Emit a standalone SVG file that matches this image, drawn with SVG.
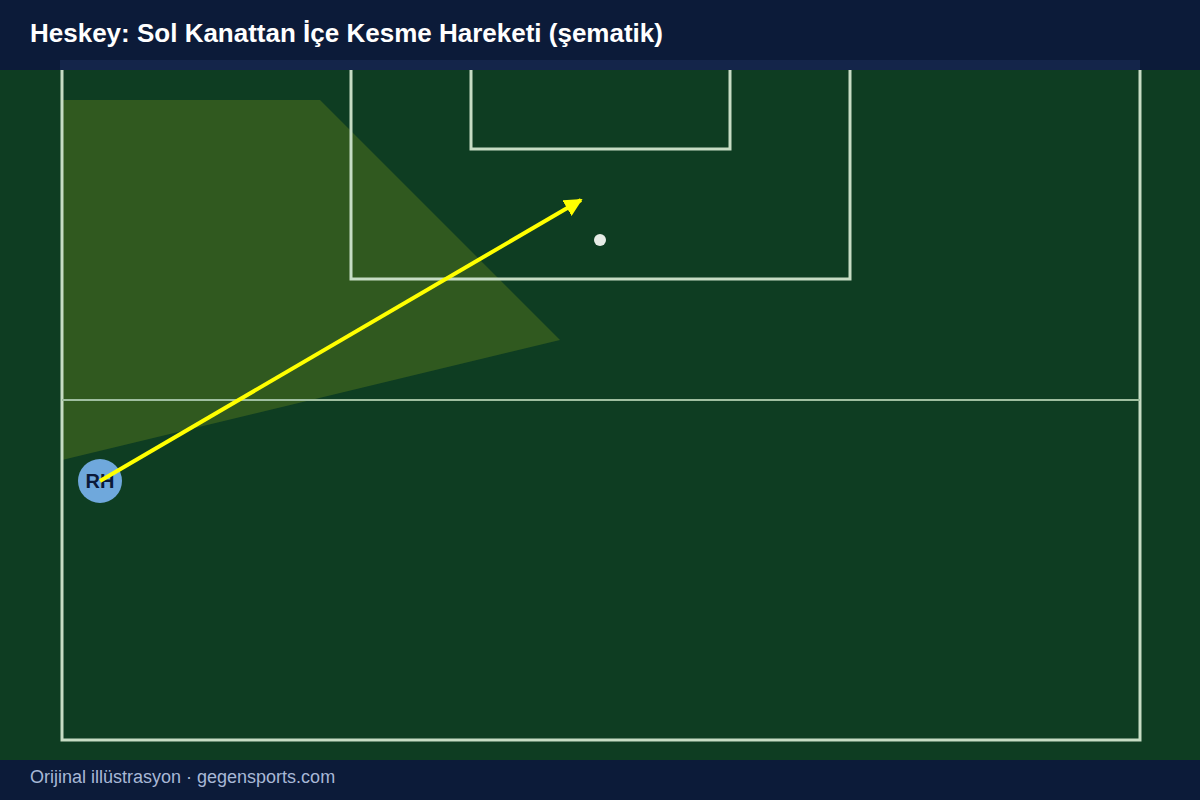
<svg xmlns="http://www.w3.org/2000/svg" width="1200" height="800" viewBox="0 0 1200 800">
<defs>
<style>
.line{fill:none;stroke:#c6dcc4;stroke-width:3}
.title{font-family:"Liberation Sans",Arial,sans-serif;font-weight:bold;font-size:26px;fill:#ffffff}
.foot{font-family:"Liberation Sans",Arial,sans-serif;font-size:18px;fill:#a8b8d6}
.lbl{font-family:"Liberation Sans",Arial,sans-serif;font-weight:bold;font-size:20px;fill:#0b1a3a}
</style>
<marker id="ah" viewBox="0 0 10 10" refX="9" refY="5" markerWidth="4.5" markerHeight="4.5" orient="auto" markerUnits="strokeWidth">
<path d="M0,0 L10,5 L0,10 z" fill="#ffff00"/>
</marker>
</defs>
<rect x="0" y="0" width="1200" height="800" fill="#0e3d22"/>
<g id="pitch">
<polygon points="62,100 320,100 560,340 62,460" fill="#30591f"/>
<rect class="line" x="62" y="62" width="1078" height="678"/>
<line x1="62" y1="400" x2="1140" y2="400" stroke="#9fbfa0" stroke-width="2"/>
<polyline class="line" points="351,62 351,279 850,279 850,62"/>
<polyline class="line" points="471,62 471,149 730,149 730,62"/>
<circle cx="600" cy="240" r="6" fill="#e6ece6"/>
</g>
<g id="header">
<rect x="0" y="0" width="1200" height="70" fill="#0c1b39"/>
<rect x="60" y="60" width="1080" height="10" fill="#14254a"/>
<text class="title" x="30" y="42">Heskey: Sol Kanattan İçe Kesme Hareketi (şematik)</text>
</g>
<g id="footer">
<rect x="0" y="760" width="1200" height="40" fill="#0c1b39"/>
<text class="foot" x="30" y="783">Orijinal illüstrasyon · gegensports.com</text>
</g>
<g id="player-RH">
<circle cx="100" cy="481" r="22" fill="#6fa8dc"/>
<text class="lbl" x="100" y="488" text-anchor="middle">RH</text>
</g>
<g id="connectors">
<line x1="100" y1="481" x2="581" y2="200" stroke="#ffff00" stroke-width="4" marker-end="url(#ah)"/>
</g>
</svg>
